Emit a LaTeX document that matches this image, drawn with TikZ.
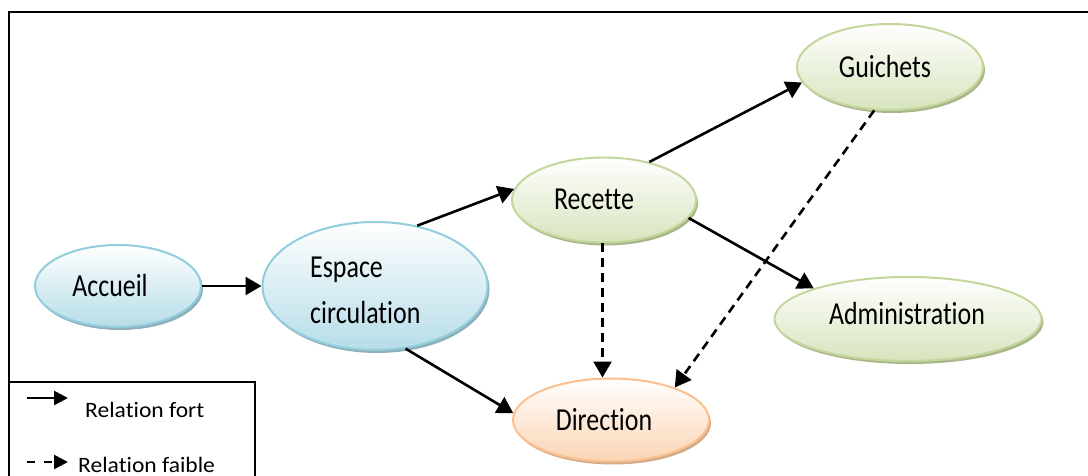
\documentclass[tikz,border=0pt]{standalone}
\usepackage{fontspec}
\setmainfont{Carlito}[FakeStretch=0.81, Ligatures=NoCommon]
\newfontfamily\legendfont{Carlito}[FakeStretch=1.07, Ligatures=NoCommon]
\usetikzlibrary{shapes.geometric,shadows,arrows.meta}
\definecolor{blueline}{RGB}{146,205,220}
\definecolor{bluefill}{RGB}{182,221,232}
\definecolor{blueshade}{RGB}{140,175,186}
\definecolor{greenline}{RGB}{195,214,155}
\definecolor{greenfill}{RGB}{215,228,189}
\definecolor{greenshade}{RGB}{168,182,138}
\definecolor{orangeline}{RGB}{250,192,144}
\definecolor{orangefill}{RGB}{251,212,180}
\definecolor{orangeshade}{RGB}{212,170,135}

\begin{document}
\begin{tikzpicture}[x=1pt, y=-1pt,
    bubble/.style={ellipse, line width=2pt, inner sep=0pt},
    bluebubble/.style={bubble, draw=blueline, top color=white, bottom color=bluefill,
        drop shadow={shadow xshift=2pt, shadow yshift=-3pt, fill=blueshade, opacity=1}},
    greenbubble/.style={bubble, draw=greenline, top color=white, bottom color=greenfill,
        drop shadow={shadow xshift=2pt, shadow yshift=-3pt, fill=greenshade, opacity=1}},
    orangebubble/.style={bubble, draw=orangeline, top color=white, bottom color=orangefill,
        drop shadow={shadow xshift=2pt, shadow yshift=-3pt, fill=orangeshade, opacity=1}},
    bubbletext/.style={font=\fontsize{32}{46}\selectfont, anchor=base, inner sep=0pt},
    strong/.style={line width=2.6pt, -{Triangle[length=16pt, width=18pt]}},
    weak/.style={strong, dash pattern=on 9pt off 6pt},
    legendtext/.style={font=\legendfont\fontsize{22}{26}\selectfont, anchor=base west, inner sep=0pt}]
    \useasboundingbox (0,0) rectangle (1088,476);

    % Frame and legend box
    \draw[line width=2.2pt] (9,477) |- (1090,12);
    \draw[line width=1.5pt] (9,382) -| (255,478);

    % Bubbles
    \node[bluebubble, minimum width=166pt, minimum height=82pt] (acc) at (118,286) {};
    \node[bubbletext] (acctxt) at (110,296) {Accueil};

    \node[bluebubble, minimum width=225pt, minimum height=128pt] (esp) at (375,286) {};
    \node[font=\fontsize{32}{46}\selectfont, align=left, anchor=west, inner sep=0pt] (esptxt) at (310,290) {Espace\\circulation};

    \node[greenbubble, minimum width=184pt, minimum height=85pt] (rec) at (604,200) {};
    \node[bubbletext] (rectxt) at (594,210) {Recette};

    \node[greenbubble, minimum width=186pt, minimum height=86pt] (gui) at (890,67) {};
    \node[bubbletext] (guitxt) at (885,78) {Guichets};

    \node[greenbubble, minimum width=267pt, minimum height=84pt] (adm) at (908,319) {};
    \node[bubbletext] (admtxt) at (907,324) {Administration};

    \node[orangebubble, minimum width=196pt, minimum height=83pt] (dir) at (611,420) {};
    \node[bubbletext] (dirtxt) at (604,430) {Direction};

    % Arrows
    \draw[strong] (acc) -- (esp);
    \draw[strong] (esp.55) -- (rec.173);
    \draw[strong] (esp.-64) -- (dir.176);
    \draw[strong] (rec.40) -- (gui.190);
    \draw[strong] (rec.-12) -- (adm.162);
    \draw[weak] (rec.-92) -- (rec.-92 |- dir.north);
    \draw[weak] (gui.-110) -- (dir.27);

    % Legend
    \coordinate (fortA) at (27,398);
    \coordinate (fortB) at (68,398);
    \draw[line width=2.6pt, -{Triangle[length=14pt, width=14pt]}] (fortA) -- (fortB);
    \node[legendtext] (forttxt) at (85,417) {Relation fort};
    \coordinate (faibleA) at (27,462);
    \coordinate (faibleB) at (68,462);
    \draw[line width=2.6pt, dash pattern=on 8pt off 9pt, -{Triangle[length=14pt, width=14pt]}] (faibleA) -- (faibleB);
    \node[legendtext] (faibletxt) at (78,472) {Relation faible};
\end{tikzpicture}
\end{document}
